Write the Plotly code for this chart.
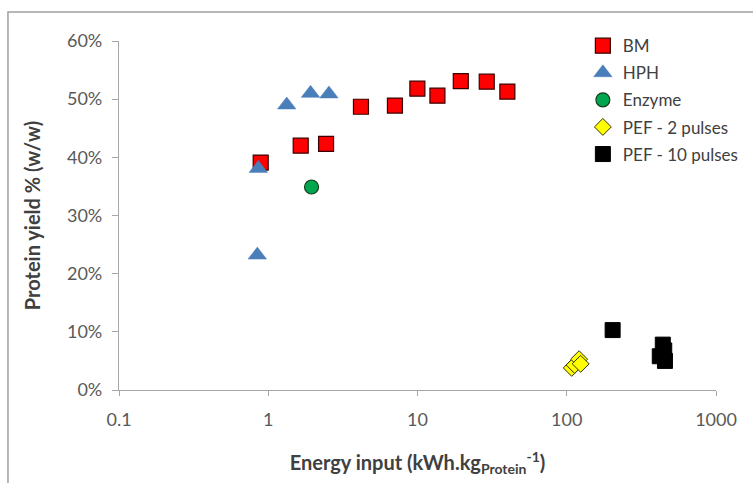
import plotly.graph_objects as go

# Data (energy input in kWh/kg protein, yield fraction)
bm_x = [0.89, 1.65, 2.44, 4.18, 7.06, 9.98, 13.6, 19.5, 29.1, 40.0]
bm_y = [0.391, 0.420, 0.423, 0.487, 0.489, 0.518, 0.506, 0.531, 0.530, 0.513]

hph_x = [0.845, 0.858, 1.33, 1.92, 2.55]
hph_y = [0.232, 0.381, 0.490, 0.510, 0.509]

enz_x = [1.95]
enz_y = [0.349]

pef2_x = [108, 113, 121, 124]
pef2_y = [0.038, 0.043, 0.053, 0.045]

pef10_x = [203, 440, 450, 420, 455]
pef10_y = [0.103, 0.078, 0.068, 0.058, 0.050]

x_ticks = [0.1, 1, 10, 100, 1000]
x_ticktext = ["0.1", "1", "10", "100", "1000"]

FONT = "Lato"
GRAY = "#a6a6a6"

fig = go.Figure()
fig.add_trace(go.Scatter(x=bm_x, y=bm_y, mode="markers", name="BM", legendgroup="a",
                         marker=dict(symbol="square", size=15, color="#ff0000",
                                     line=dict(color="#3a0000", width=1.2))))
fig.add_trace(go.Scatter(x=hph_x, y=hph_y, mode="markers", name="HPH", legendgroup="b",
                         marker=dict(symbol="triangle-up", size=16, color="#4a7ebb",
                                     line=dict(color="#4a7ebb", width=0.5))))
fig.add_trace(go.Scatter(x=enz_x, y=enz_y, mode="markers", name="Enzyme", legendgroup="c",
                         marker=dict(symbol="circle", size=14, color="#00a650",
                                     line=dict(color="#1a3a1a", width=1.2))))
fig.add_trace(go.Scatter(x=pef2_x, y=pef2_y, mode="markers", name="PEF - 2 pulses", legendgroup="d",
                         marker=dict(symbol="diamond", size=13, color="#ffff00",
                                     line=dict(color="#333300", width=1))))
fig.add_trace(go.Scatter(x=pef10_x, y=pef10_y, mode="markers", name="PEF - 10 pulses", legendgroup="e",
                         marker=dict(symbol="square", size=15, color="#000000",
                                     line=dict(color="#000000", width=1))))

# outer frame
fig.add_shape(type="rect", xref="paper", yref="paper",
              x0=-0.186, x1=1.3, y0=-0.5, y1=1.083,
              line=dict(color="#a0a0a0", width=1.5), fillcolor="rgba(0,0,0,0)", layer="below")

fig.update_layout(
    width=753, height=483,
    margin=dict(l=119, r=37, t=41, b=93, autoexpand=False),
    paper_bgcolor="white", plot_bgcolor="white",
    font=dict(family=FONT, size=14, color="#595959"),
    showlegend=True,
    legend=dict(x=0.777, y=1.037, xanchor="left", yanchor="top",
                font=dict(family=FONT, size=17, color="#404040"),
                tracegroupgap=2, itemwidth=30, bgcolor="rgba(0,0,0,0)"),
    xaxis=dict(type="log", range=[-1, 3], tickvals=x_ticks, ticktext=x_ticktext,
               showline=True, linecolor=GRAY, linewidth=1.3, ticks="outside",
               ticklen=5, tickcolor=GRAY, showgrid=False, zeroline=False,
               automargin=False, ticklabelstandoff=8,
               tickfont=dict(size=18, color="#595959"),
               title=dict(text="<b>Energy input (kWh.kg<sub>Protein</sub><sup>-1</sup>)</b>",
                          font=dict(size=20, color="#404040"), standoff=27)),
    yaxis=dict(range=[0, 0.6], dtick=0.1, tickformat=".0%",
               showline=True, linecolor=GRAY, linewidth=1.3, ticks="outside",
               ticklen=6, tickcolor=GRAY, showgrid=False, zeroline=False,
               automargin=False, ticklabelstandoff=6,
               tickfont=dict(size=18, color="#595959"),
               title=dict(text="<b>Protein yield % (w/w)</b>",
                          font=dict(size=20, color="#404040"), standoff=20)),
)

fig.write_html("out.html", config={"displayModeBar": False},
               post_script="document.body.style.margin='0px';")
